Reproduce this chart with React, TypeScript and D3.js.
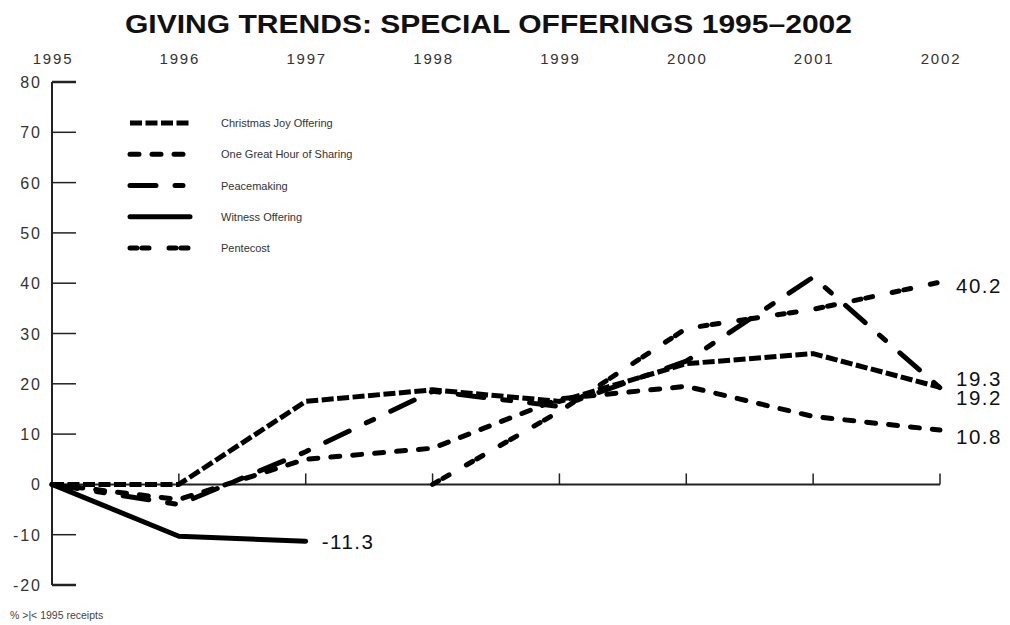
import React from "react";
import * as d3 from "d3";

const years = [1995, 1996, 1997, 1998, 1999, 2000, 2001, 2002];
const yTicks = [80, 70, 60, 50, 40, 30, 20, 10, 0, -10, -20];

// values are % change vs 1995 receipts, null where the series has no value
const christmasJoy = [0, 0, 16.5, 18.8, 16.5, 24, 26, 19.3];
const greatHour = [0, -3, 5, 7.2, 17, 19.5, 13.5, 10.8];
const peacemaking = [0, -4, 6.5, 18.5, 15.5, 24.5, 41.2, 19.2];
const witness = [0, -10.3, -11.3, null, null, null, null, null];
const pentecost = [null, null, null, 0, 14.5, 31, 34.8, 40.2];

// dy = baseline offset of the end label from the last point
const series = [
  { name: "Christmas Joy Offering", values: christmasJoy, dash: "12,3.5", cap: "butt", label: "19.3", dy: -1 },
  { name: "One Great Hour of Sharing", values: greatHour, dash: "9,13", cap: "round", label: "10.8", dy: 14 },
  { name: "Peacemaking", values: peacemaking, dash: "26,19,8,19", cap: "round", label: "19.2", dy: 17 },
  { name: "Witness Offering", values: witness, dash: null, cap: "round", label: "-11.3", dy: 8 },
  { name: "Pentecost", values: pentecost, dash: "7,5,7,20", cap: "round", label: "40.2", dy: 11 },
];

const width = 1010;
const height = 625;

export default function App() {
  const x = d3.scaleLinear().domain([1995, 2002]).range([52, 940]);
  const y = d3.scaleLinear().domain([-20, 80]).range([585, 82]);

  const line = d3
    .line<number | null>()
    .defined((d) => d !== null)
    .x((d, i) => x(years[i]))
    .y((d) => y(d as number));

  const legendY = d3.scalePoint<string>().domain(series.map((s) => s.name)).range([123, 248]);

  const font = "'Liberation Sans', Arial, sans-serif";

  return (
    <svg width={width} height={height} style={{ position: "absolute", left: 0, top: 0, background: "#fff" }}>
      <text
        x={125}
        y={33}
        fontFamily={font}
        fontWeight="bold"
        fontSize={25}
        textLength={727}
        lengthAdjust="spacingAndGlyphs"
        fill="#111"
      >
        GIVING TRENDS: SPECIAL OFFERINGS 1995–2002
      </text>

      {/* year labels along the top */}
      {years.map((yr) => (
        <text
          key={yr}
          x={x(yr) + 1}
          y={64}
          textAnchor="middle"
          fontFamily={font}
          fontSize={15}
          letterSpacing={1.8}
          fill="#333"
        >
          {yr}
        </text>
      ))}

      {/* y axis */}
      <line x1={x(1995)} x2={x(1995)} y1={y(80)} y2={y(-20)} stroke="#222" strokeWidth={2} />
      {yTicks.map((t) => (
        <g key={t}>
          <line x1={x(1995)} x2={x(1995) + 24} y1={y(t)} y2={y(t)} stroke="#222" strokeWidth={t === 80 || t === -20 ? 2.5 : 1.5} />
          <text
            x={42}
            y={y(t) + 6}
            textAnchor="end"
            fontFamily={font}
            fontSize={16}
            letterSpacing={2}
            fill="#333"
          >
            {t}
          </text>
        </g>
      ))}

      {/* zero line with year ticks */}
      <line x1={x(1995)} x2={x(2002)} y1={y(0)} y2={y(0)} stroke="#222" strokeWidth={2} />
      {years.slice(1).map((yr) => (
        <line key={yr} x1={x(yr)} x2={x(yr)} y1={y(0)} y2={y(0) - 11} stroke="#222" strokeWidth={1.5} />
      ))}

      {/* series */}
      {series.map((s) => (
        <path
          key={s.name}
          d={line(s.values) || ""}
          fill="none"
          stroke="#000"
          strokeWidth={5}
          strokeDasharray={s.dash || undefined}
          strokeLinecap={s.cap as any}
          strokeLinejoin="round"
        />
      ))}

      {/* end labels */}
      {series.map((s) => {
        const idx = s.values.reduce((acc: number, v, i) => (v !== null ? i : acc), 0);
        const v = s.values[idx] as number;
        return (
          <text
            key={s.name}
            x={x(years[idx]) + 16}
            y={y(v) + s.dy}
            fontFamily={font}
            fontSize={20.5}
            letterSpacing={1.5}
            fill="#111"
          >
            {s.label}
          </text>
        );
      })}

      {/* legend */}
      {series.map((s) => (
        <g key={s.name}>
          <line
            x1={130}
            x2={190}
            y1={legendY(s.name)}
            y2={legendY(s.name)}
            stroke="#000"
            strokeWidth={5}
            strokeDasharray={s.dash || undefined}
            strokeLinecap={s.cap as any}
          />
          <text x={221} y={(legendY(s.name) as number) + 4} fontFamily={font} fontSize={11} fill="#333">
            {s.name}
          </text>
        </g>
      ))}

      <text x={10} y={619} fontFamily={font} fontSize={10.5} fill="#444">
        % &gt;|&lt; 1995 receipts
      </text>
    </svg>
  );
}
